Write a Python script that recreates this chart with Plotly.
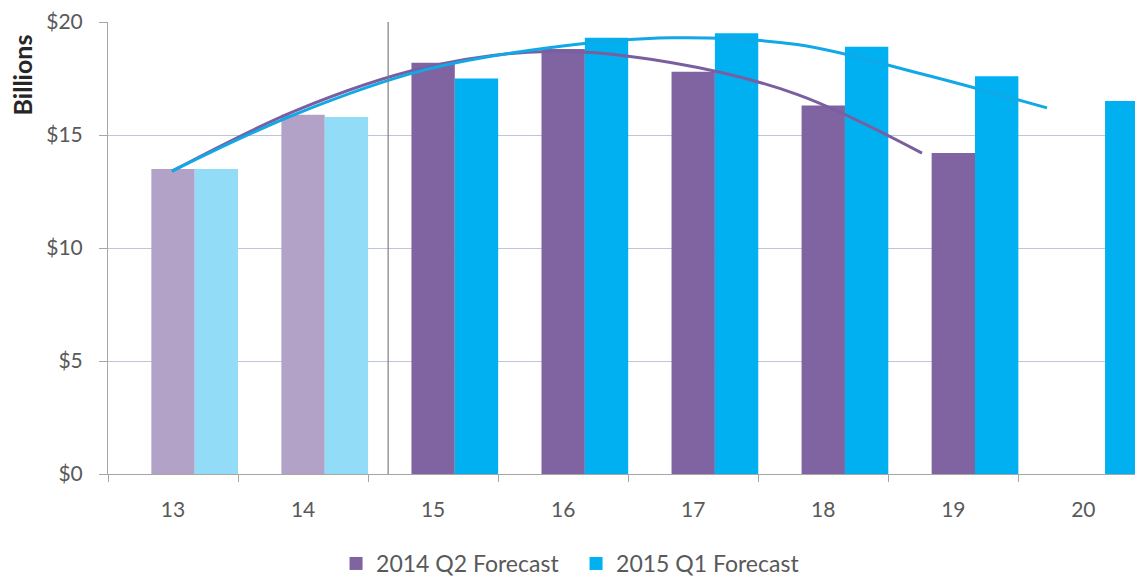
import plotly.graph_objects as go

categories = ["13", "14", "15", "16", "17", "18", "19", "20"]
q2_2014 = [13.5, 15.9, 18.2, 18.8, 17.8, 16.3, 14.2, None]
q1_2015 = [13.5, 15.8, 17.5, 19.3, 19.5, 18.9, 17.6, 16.5]
trend_2014 = [13.4, 16.1, 17.95, 18.7, 18.2, 16.8, 14.2]
trend_2015 = [13.4, 15.95, 17.85, 18.85, 19.3, 19.0, 17.7, 16.2]
tick_vals = [0, 5, 10, 15, 20]
tick_text = ["$0", "$5", "$10", "$15", "$20"]

purple_colors = ["#B3A2C7", "#B3A2C7"] + ["#8064A2"] * 6
blue_colors = ["#93DCF8", "#93DCF8"] + ["#00B0F0"] * 6

font_family = "Lato, 'Open Sans', sans-serif"
text_col = "#595959"
slot = 1 / 3

fig = go.Figure()
fig.add_trace(go.Bar(x=categories, y=q2_2014, name="2014 Q2 Forecast", showlegend=False,
                     width=slot, offset=-slot / 2,
                     marker=dict(color=purple_colors, line=dict(width=0))))
fig.add_trace(go.Bar(x=categories, y=q1_2015, name="2015 Q1 Forecast", showlegend=False,
                     width=slot, offset=slot / 2,
                     marker=dict(color=blue_colors, line=dict(width=0))))
# trendlines live on their own (hidden) category axis, slightly compressed as in the source
fig.add_trace(go.Scatter(x=categories[:len(trend_2014)], y=trend_2014, mode="lines", xaxis="x2",
                         line=dict(color="#7A5FA0", width=3, shape="spline"),
                         showlegend=False, hoverinfo="skip"))
fig.add_trace(go.Scatter(x=categories, y=trend_2015, mode="lines", xaxis="x2",
                         line=dict(color="#10A8E6", width=3, shape="spline"),
                         showlegend=False, hoverinfo="skip"))

# legend entries with the darker colours
fig.add_trace(go.Scatter(x=[None], y=[None], mode="markers", name="2014 Q2 Forecast",
                         marker=dict(symbol="square", size=13, color="#8064A2")))
fig.add_trace(go.Scatter(x=[None], y=[None], mode="markers", name="2015 Q1 Forecast",
                         marker=dict(symbol="square", size=13, color="#00B0F0")))

fig.add_shape(type="line", xref="x", yref="paper", x0=1.654, x1=1.654, y0=0, y1=1,
              line=dict(color="#7F7F7F", width=1.2))

fig.add_annotation(text="<b>Billions</b>", xref="paper", yref="paper",
                   x=-0.0825, y=0.978, xanchor="center", yanchor="top",
                   textangle=-90, showarrow=False,
                   font=dict(family=font_family, size=25, color="#262626"))

fig.update_layout(
    width=1143, height=577,
    margin=dict(l=100, r=0, t=14, b=111, autoexpand=False),
    paper_bgcolor="white", plot_bgcolor="white",
    barmode="overlay",
    font=dict(family=font_family, size=21, color=text_col),
    showlegend=True,
    legend=dict(orientation="h", xref="container", yref="container",
                x=0.287, y=0.0, xanchor="left", yanchor="bottom",
                font=dict(size=23, color=text_col), traceorder="normal",
                itemwidth=30, entrywidth=195),
    xaxis=dict(type="category", range=[-0.5, 7.52], showgrid=False,
               showline=True, linecolor="#A6A6A6", linewidth=1,
               ticks="outside", tickson="boundaries", ticklen=7,
               tickcolor="#A6A6A6", ticklabelstandoff=17,
               tickfont=dict(size=21, color=text_col)),
    xaxis2=dict(type="category", overlaying="x", range=[-0.512, 7.832],
                visible=False, showgrid=False),
    yaxis=dict(range=[0, 20], tickvals=tick_vals, ticktext=tick_text,
               showgrid=True, gridcolor="#BDC6D8", gridwidth=1,
               showline=True, linecolor="#A6A6A6", linewidth=1,
               ticks="outside", ticklen=8, tickcolor="#A6A6A6",
               ticklabelstandoff=12,
               zeroline=False, tickfont=dict(size=21, color=text_col)),
)

fig.write_html("out.html")
